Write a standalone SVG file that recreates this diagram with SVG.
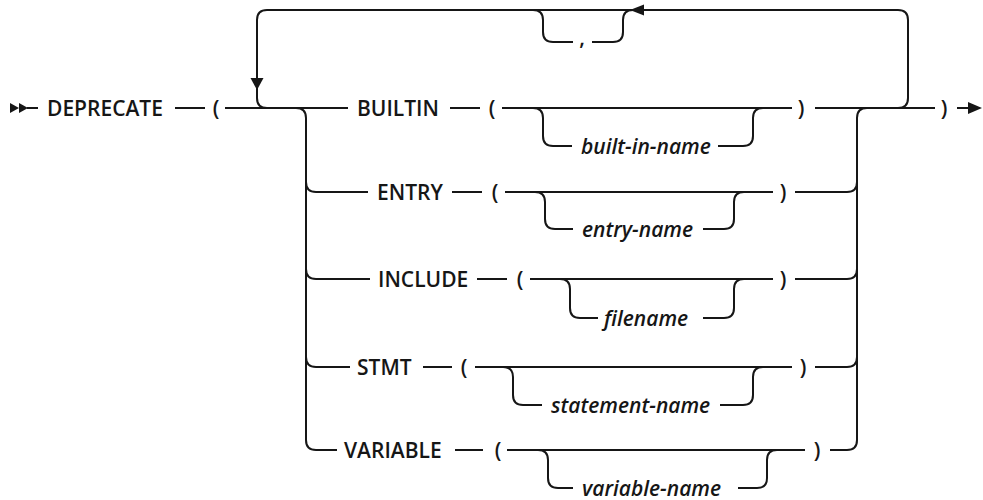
<svg xmlns="http://www.w3.org/2000/svg" width="983" height="500" viewBox="0 0 983 500">
<style>
  .ln { fill: none; stroke: #161616; stroke-width: 2; }
  .ah { fill: #161616; stroke: none; }
  .kw { font-family: "Open Sans", "Liberation Sans", sans-serif; font-size: 21px; font-weight: 600; fill: #161616; }
  .var { font-family: "Open Sans", "Liberation Sans", sans-serif; font-size: 21px; font-weight: 600; font-style: italic; fill: #161616; }
  .p { font-family: "Open Sans", "Liberation Sans", sans-serif; font-size: 21px; font-weight: 600; fill: #161616; text-anchor: middle; }
</style>
<rect width="983" height="500" fill="#ffffff"/>
<g id="connectors">
  <!-- start -->
  <polygon class="ah" points="10,103 19,108 10,113"/>
  <polygon class="ah" points="19,103 28,108 19,113"/>
  <path class="ln" d="M27,108 H38"/>
  <path class="ln" d="M175,108 H205"/>
  <path class="ln" d="M225,108 H348"/>
  <!-- repeat loop -->
  <path class="ln" d="M267,108 Q257,108 257,98 V20 Q257,10 267,10 H898 Q908,10 908,20 V98 Q908,108 898,108"/>
  <polygon class="ah" points="250.5,78 263.5,78 257,90"/>
  <polygon class="ah" points="630,10 644,4.5 644,15.5"/>
  <!-- comma bypass -->
  <path class="ln" d="M533,10 Q543,10 543,20 V32 Q543,42 553,42 H573"/>
  <path class="ln" d="M592,42 H613 Q623,42 623,32 V20 Q623,10 633,10"/>
  <!-- left branch rail -->
  <path class="ln" d="M296,108 Q306,108 306,118 V440 Q306,450 316,450"/>
  <path class="ln" d="M306,182 Q306,192 316,192"/>
  <path class="ln" d="M306,269 Q306,279 316,279"/>
  <path class="ln" d="M306,357 Q306,367 316,367"/>
  <!-- right branch rail -->
  <path class="ln" d="M847,450 Q857,450 857,440 V118 Q857,108 867,108"/>
  <path class="ln" d="M847,192 Q857,192 857,182"/>
  <path class="ln" d="M847,279 Q857,279 857,269"/>
  <path class="ln" d="M847,367 Q857,367 857,357"/>
  <!-- BUILTIN row -->
  <path class="ln" d="M450,108 H480"/>
  <path class="ln" d="M502,108 H792"/>
  <path class="ln" d="M815,108 H935"/>
  <path class="ln" d="M533,108 Q543,108 543,118 V136 Q543,146 553,146 H572"/>
  <path class="ln" d="M718,146 H743 Q753,146 753,136 V118 Q753,108 763,108"/>
  <!-- ENTRY row -->
  <path class="ln" d="M316,192 H368"/>
  <path class="ln" d="M452,192 H482"/>
  <path class="ln" d="M505,192 H773"/>
  <path class="ln" d="M795,192 H847"/>
  <path class="ln" d="M535,192 Q545,192 545,202 V219 Q545,229 555,229 H573"/>
  <path class="ln" d="M703,229 H724 Q734,229 734,219 V202 Q734,192 744,192"/>
  <!-- INCLUDE row -->
  <path class="ln" d="M316,279 H370"/>
  <path class="ln" d="M477,279 H507"/>
  <path class="ln" d="M530,279 H773"/>
  <path class="ln" d="M795,279 H847"/>
  <path class="ln" d="M560,279 Q570,279 570,289 V308 Q570,318 580,318 H598"/>
  <path class="ln" d="M703,318 H724 Q734,318 734,308 V289 Q734,279 744,279"/>
  <!-- STMT row -->
  <path class="ln" d="M316,367 H350"/>
  <path class="ln" d="M423,367 H452"/>
  <path class="ln" d="M475,367 H792"/>
  <path class="ln" d="M815,367 H847"/>
  <path class="ln" d="M503,367 Q513,367 513,377 V395 Q513,405 523,405 H542"/>
  <path class="ln" d="M720,405 H743 Q753,405 753,395 V377 Q753,367 763,367"/>
  <!-- VARIABLE row -->
  <path class="ln" d="M316,450 H337"/>
  <path class="ln" d="M455,450 H483"/>
  <path class="ln" d="M507,450 H805"/>
  <path class="ln" d="M830,450 H847"/>
  <path class="ln" d="M538,450 Q548,450 548,460 V478 Q548,488 558,488 H573"/>
  <path class="ln" d="M738,488 H757 Q767,488 767,478 V460 Q767,450 777,450"/>
  <!-- end -->
  <path class="ln" d="M957,108 H969"/>
  <polygon class="ah" points="968,102 982,108 968,114"/>
</g>
<g id="node-deprecate"><text class="kw" x="47" y="115.5">DEPRECATE</text></g>
<g id="node-open-paren"><text class="p" x="216" y="115.5">(</text></g>
<g id="node-comma"><text class="p" x="582" y="45">,</text></g>
<g id="node-builtin">
  <text class="kw" x="357" y="115.5">BUILTIN</text>
  <text class="p" x="492" y="115.5">(</text>
  <text class="var" x="581" y="153.5">built-in-name</text>
  <text class="p" x="801" y="115.5">)</text>
</g>
<g id="node-entry">
  <text class="kw" x="377" y="199.5">ENTRY</text>
  <text class="p" x="495" y="199.5">(</text>
  <text class="var" x="582" y="236.5">entry-name</text>
  <text class="p" x="783" y="199.5">)</text>
</g>
<g id="node-include">
  <text class="kw" x="378" y="286.5">INCLUDE</text>
  <text class="p" x="520" y="286.5">(</text>
  <text class="var" x="604" y="325.5">filename</text>
  <text class="p" x="783" y="286.5">)</text>
</g>
<g id="node-stmt">
  <text class="kw" x="357" y="374.5">STMT</text>
  <text class="p" x="464" y="374.5">(</text>
  <text class="var" x="551" y="412.5">statement-name</text>
  <text class="p" x="803" y="374.5">)</text>
</g>
<g id="node-variable">
  <text class="kw" x="344" y="457.5">VARIABLE</text>
  <text class="p" x="498" y="457.5">(</text>
  <text class="var" x="582" y="495.5">variable-name</text>
  <text class="p" x="817" y="457.5">)</text>
</g>
<g id="node-close-paren"><text class="p" x="944" y="115.5">)</text></g>
</svg>
